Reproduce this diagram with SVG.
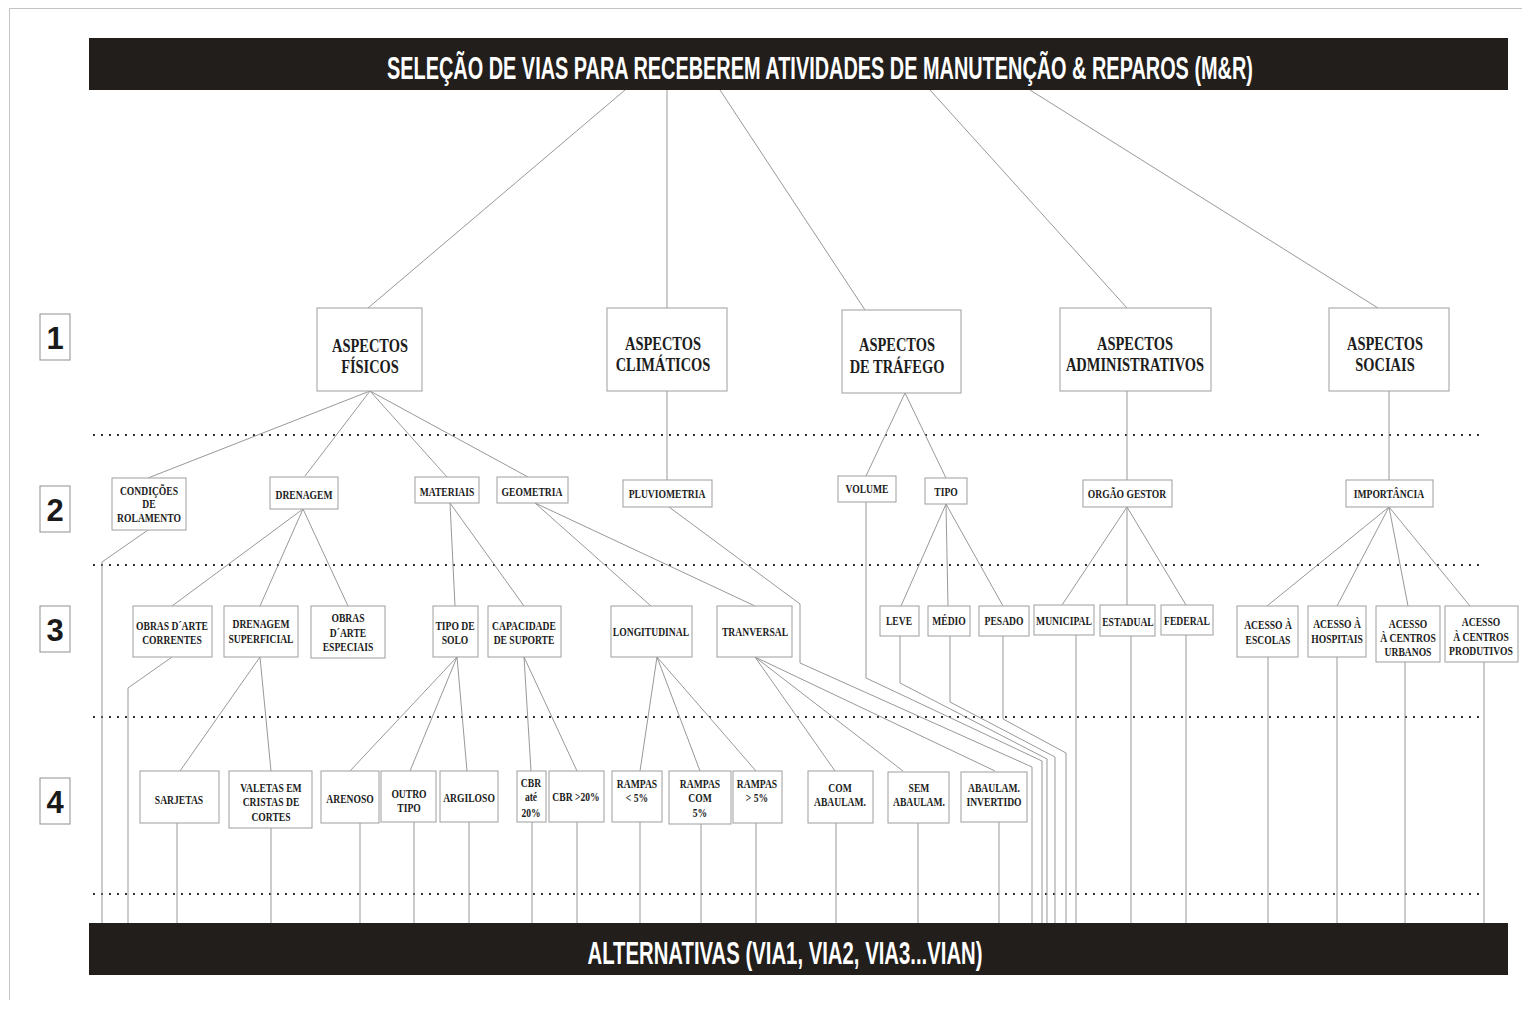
<svg xmlns="http://www.w3.org/2000/svg" width="1522" height="1011" viewBox="0 0 1522 1011">
<style>
  .bg { fill: #ffffff; }
  .frame { stroke: #c4c4c4; stroke-width: 1; fill: none; }
  .banner { fill: #221e1b; }
  .btxt { font-family: "Liberation Sans", Arial, sans-serif; font-weight: bold; font-size: 32px; fill: #ffffff; text-anchor: middle; }
  .box { fill: #ffffff; stroke: #a6a6a6; stroke-width: 1.1; }
  .lvl { fill: #ffffff; stroke: #9a9a9a; stroke-width: 1.1; }
  .num { font-family: "Liberation Sans", Arial, sans-serif; font-weight: bold; font-size: 31px; fill: #1a1a1a; text-anchor: middle; }
  .t1 { font-family: "Liberation Serif", "Times New Roman", serif; font-weight: bold; font-size: 19px; fill: #1c1c1c; text-anchor: middle; transform-box: fill-box; transform-origin: center; transform: scaleX(0.76); }
  .t { font-family: "Liberation Serif", "Times New Roman", serif; font-weight: bold; font-size: 12px; fill: #1c1c1c; text-anchor: middle; transform-box: fill-box; transform-origin: center; transform: scaleX(0.8); }
  .dots { stroke: #262626; stroke-width: 1.9; stroke-dasharray: 1.9 6.1; fill: none; }
  .ln { stroke: #8c8c8c; stroke-width: 0.9; fill: none; }
</style>

<rect class="bg" x="0" y="0" width="1522" height="1011"/>
<!-- page frame -->
<path class="frame" d="M9.5 1000 V8.5 H1522"/>

<!-- level separators -->
<g id="separators">
  <line class="dots" x1="93" y1="435" x2="1480" y2="435"/>
  <line class="dots" x1="93" y1="565" x2="1480" y2="565"/>
  <line class="dots" x1="93" y1="717" x2="1480" y2="717"/>
  <line class="dots" x1="93" y1="894" x2="1480" y2="894"/>
</g>

<!-- connectors -->
<g id="connectors">
  <!-- title to level 1 -->
  <line class="ln" x1="625" y1="90" x2="368" y2="308"/>
  <line class="ln" x1="667" y1="90" x2="667" y2="308"/>
  <line class="ln" x1="720" y1="90" x2="865" y2="310"/>
  <line class="ln" x1="930" y1="90" x2="1127" y2="308"/>
  <line class="ln" x1="1030" y1="90" x2="1378" y2="308"/>
  <!-- level 1 to level 2 -->
  <line class="ln" x1="370" y1="391" x2="148" y2="478"/>
  <line class="ln" x1="370" y1="391" x2="305" y2="476"/>
  <line class="ln" x1="370" y1="391" x2="447" y2="477"/>
  <line class="ln" x1="370" y1="391" x2="528" y2="477"/>
  <line class="ln" x1="667" y1="391" x2="667" y2="480"/>
  <line class="ln" x1="905" y1="393" x2="866" y2="476"/>
  <line class="ln" x1="905" y1="393" x2="946" y2="478"/>
  <line class="ln" x1="1127" y1="391" x2="1127" y2="480"/>
  <line class="ln" x1="1389" y1="391" x2="1389" y2="480"/>
  <!-- level 2 to level 3 -->
  <polyline class="ln" points="148,530 102,562 102,923"/>
  <line class="ln" x1="303" y1="509" x2="172" y2="606"/>
  <line class="ln" x1="303" y1="509" x2="260" y2="606"/>
  <line class="ln" x1="303" y1="509" x2="348" y2="606"/>
  <line class="ln" x1="450" y1="503" x2="455" y2="606"/>
  <line class="ln" x1="450" y1="503" x2="524" y2="606"/>
  <line class="ln" x1="535" y1="503" x2="651" y2="606"/>
  <line class="ln" x1="535" y1="503" x2="755" y2="606"/>
  <polyline class="ln" points="669,507 800,604 800,663 1032,767 1032,923"/>
  <polyline class="ln" points="866,502 866,678 1042,761 1042,923"/>
  <line class="ln" x1="946" y1="504" x2="901" y2="606"/>
  <line class="ln" x1="946" y1="504" x2="948" y2="606"/>
  <line class="ln" x1="946" y1="504" x2="1003" y2="606"/>
  <line class="ln" x1="1127" y1="507" x2="1062" y2="605"/>
  <line class="ln" x1="1127" y1="507" x2="1127" y2="605"/>
  <line class="ln" x1="1127" y1="507" x2="1186" y2="605"/>
  <line class="ln" x1="1389" y1="507" x2="1267" y2="606"/>
  <line class="ln" x1="1389" y1="507" x2="1337" y2="606"/>
  <line class="ln" x1="1389" y1="507" x2="1408" y2="606"/>
  <line class="ln" x1="1389" y1="507" x2="1470" y2="606"/>
  <!-- level 3 to level 4 / alternatives -->
  <polyline class="ln" points="172,657 128,688 128,923"/>
  <line class="ln" x1="260" y1="657" x2="180" y2="771"/>
  <line class="ln" x1="260" y1="657" x2="271" y2="771"/>
  <line class="ln" x1="457" y1="657" x2="350" y2="771"/>
  <line class="ln" x1="457" y1="657" x2="410" y2="771"/>
  <line class="ln" x1="457" y1="657" x2="467" y2="771"/>
  <line class="ln" x1="524" y1="657" x2="531" y2="771"/>
  <line class="ln" x1="524" y1="657" x2="577" y2="771"/>
  <line class="ln" x1="657" y1="657" x2="640" y2="771"/>
  <line class="ln" x1="657" y1="657" x2="700" y2="771"/>
  <line class="ln" x1="657" y1="657" x2="756" y2="771"/>
  <line class="ln" x1="755" y1="657" x2="835" y2="771"/>
  <line class="ln" x1="755" y1="657" x2="903" y2="771"/>
  <line class="ln" x1="755" y1="657" x2="995" y2="771"/>
  <polyline class="ln" points="900,636 900,683 1047,759 1047,923"/>
  <polyline class="ln" points="950,636 950,702 1055,757 1055,923"/>
  <polyline class="ln" points="1003,636 1003,719 1066,753 1066,923"/>
  <line class="ln" x1="1076" y1="635" x2="1076" y2="923"/>
  <line class="ln" x1="1131" y1="636" x2="1131" y2="923"/>
  <line class="ln" x1="1186" y1="635" x2="1186" y2="923"/>
  <line class="ln" x1="1268" y1="657" x2="1268" y2="923"/>
  <line class="ln" x1="1337" y1="657" x2="1337" y2="923"/>
  <line class="ln" x1="1405" y1="662" x2="1405" y2="923"/>
  <line class="ln" x1="1484" y1="662" x2="1484" y2="923"/>
  <!-- level 4 to alternatives -->
  <line class="ln" x1="177" y1="823" x2="177" y2="923"/>
  <line class="ln" x1="271" y1="828" x2="271" y2="923"/>
  <line class="ln" x1="360" y1="823" x2="360" y2="923"/>
  <line class="ln" x1="414" y1="822" x2="414" y2="923"/>
  <line class="ln" x1="469" y1="822" x2="469" y2="923"/>
  <line class="ln" x1="532" y1="822" x2="532" y2="923"/>
  <line class="ln" x1="577" y1="822" x2="577" y2="923"/>
  <line class="ln" x1="640" y1="822" x2="640" y2="923"/>
  <line class="ln" x1="701" y1="824" x2="701" y2="923"/>
  <line class="ln" x1="756" y1="823" x2="756" y2="923"/>
  <line class="ln" x1="836" y1="823" x2="836" y2="923"/>
  <line class="ln" x1="918" y1="823" x2="918" y2="923"/>
  <line class="ln" x1="999" y1="822" x2="999" y2="923"/>
</g>

<!-- title banner -->
<g id="title">
  <rect class="banner" x="89" y="38" width="1419" height="52"/>
  <text class="btxt" transform="translate(820 79) scale(0.622 1)" x="0" y="0">SELEÇÃO DE VIAS PARA RECEBEREM ATIVIDADES  DE MANUTENÇÃO &amp; REPAROS (M&amp;R)</text>
</g>

<!-- alternatives banner -->
<g id="alternativas">
  <rect class="banner" x="89" y="923" width="1419" height="52"/>
  <text class="btxt" transform="translate(785 964) scale(0.635 1)" x="0" y="0">ALTERNATIVAS (VIA1, VIA2, VIA3...VIAN)</text>
</g>

<!-- level numbers -->
<g id="nivel-1"><rect class="lvl" x="40" y="314" width="30" height="46"/><text class="num" x="55" y="349">1</text></g>
<g id="nivel-2"><rect class="lvl" x="40" y="486" width="30" height="46"/><text class="num" x="55" y="521">2</text></g>
<g id="nivel-3"><rect class="lvl" x="40" y="606" width="30" height="46"/><text class="num" x="55" y="641">3</text></g>
<g id="nivel-4"><rect class="lvl" x="40" y="778" width="30" height="46"/><text class="num" x="55" y="813">4</text></g>

<!-- level 1 -->
<g id="aspectos-fisicos"><rect class="box" x="317" y="308" width="105" height="83"/><text class="t1"><tspan x="370" y="352">ASPECTOS</tspan><tspan x="370" y="373">FÍSICOS</tspan></text></g>
<g id="aspectos-climaticos"><rect class="box" x="607" y="308" width="120" height="83"/><text class="t1"><tspan x="663" y="350">ASPECTOS</tspan><tspan x="663" y="371">CLIMÁTICOS</tspan></text></g>
<g id="aspectos-trafego"><rect class="box" x="842" y="310" width="119" height="83"/><text class="t1"><tspan x="897" y="351">ASPECTOS</tspan><tspan x="897" y="373">DE TRÁFEGO</tspan></text></g>
<g id="aspectos-administrativos"><rect class="box" x="1060" y="308" width="151" height="83"/><text class="t1"><tspan x="1135" y="350">ASPECTOS</tspan><tspan x="1135" y="371">ADMINISTRATIVOS</tspan></text></g>
<g id="aspectos-sociais"><rect class="box" x="1329" y="308" width="120" height="83"/><text class="t1"><tspan x="1385" y="350">ASPECTOS</tspan><tspan x="1385" y="371">SOCIAIS</tspan></text></g>

<!-- level 2 -->
<g id="condicoes-rolamento"><rect class="box" x="112" y="478" width="74" height="52"/><text class="t"><tspan x="149" y="495">CONDIÇÕES</tspan><tspan x="149" y="508">DE</tspan><tspan x="149" y="522">ROLAMENTO</tspan></text></g>
<g id="drenagem"><rect class="box" x="270" y="477" width="68" height="32"/><text class="t" x="304" y="499">DRENAGEM</text></g>
<g id="materiais"><rect class="box" x="415" y="477" width="64" height="26"/><text class="t" x="447" y="496">MATERIAIS</text></g>
<g id="geometria"><rect class="box" x="497" y="477" width="71" height="26"/><text class="t" x="532" y="496">GEOMETRIA</text></g>
<g id="pluviometria"><rect class="box" x="623" y="480" width="89" height="27"/><text class="t" x="667" y="498">PLUVIOMETRIA</text></g>
<g id="volume"><rect class="box" x="838" y="476" width="58" height="26"/><text class="t" x="867" y="493">VOLUME</text></g>
<g id="tipo"><rect class="box" x="925" y="478" width="42" height="26"/><text class="t" x="946" y="496">TIPO</text></g>
<g id="orgao-gestor"><rect class="box" x="1083" y="480" width="89" height="27"/><text class="t" x="1127" y="498">ORGÃO GESTOR</text></g>
<g id="importancia"><rect class="box" x="1346" y="480" width="87" height="27"/><text class="t" x="1389" y="498">IMPORTÂNCIA</text></g>

<!-- level 3 -->
<g id="obras-arte-correntes"><rect class="box" x="133" y="606" width="79" height="51"/><text class="t"><tspan x="172" y="630">OBRAS D´ARTE</tspan><tspan x="172" y="644">CORRENTES</tspan></text></g>
<g id="drenagem-superficial"><rect class="box" x="224" y="606" width="74" height="51"/><text class="t"><tspan x="261" y="628">DRENAGEM</tspan><tspan x="261" y="643">SUPERFICIAL</tspan></text></g>
<g id="obras-arte-especiais"><rect class="box" x="311" y="606" width="74" height="52"/><text class="t"><tspan x="348" y="622">OBRAS</tspan><tspan x="348" y="637">D´ARTE</tspan><tspan x="348" y="651">ESPECIAIS</tspan></text></g>
<g id="tipo-de-solo"><rect class="box" x="433" y="606" width="45" height="51"/><text class="t"><tspan x="455" y="630">TIPO DE</tspan><tspan x="455" y="644">SOLO</tspan></text></g>
<g id="capacidade-suporte"><rect class="box" x="488" y="606" width="73" height="51"/><text class="t"><tspan x="524" y="630">CAPACIDADE</tspan><tspan x="524" y="644">DE SUPORTE</tspan></text></g>
<g id="longitudinal"><rect class="box" x="611" y="606" width="81" height="51"/><text class="t" x="651" y="636">LONGITUDINAL</text></g>
<g id="tranversal"><rect class="box" x="717" y="606" width="75" height="51"/><text class="t" x="755" y="636">TRANVERSAL</text></g>
<g id="leve"><rect class="box" x="880" y="606" width="39" height="30"/><text class="t" x="899" y="625">LEVE</text></g>
<g id="medio"><rect class="box" x="928" y="606" width="42" height="30"/><text class="t" x="949" y="625">MÉDIO</text></g>
<g id="pesado"><rect class="box" x="979" y="606" width="50" height="30"/><text class="t" x="1004" y="625">PESADO</text></g>
<g id="municipal"><rect class="box" x="1034" y="605" width="60" height="30"/><text class="t" x="1064" y="625">MUNICIPAL</text></g>
<g id="estadual"><rect class="box" x="1100" y="605" width="55" height="31"/><text class="t" x="1128" y="626">ESTADUAL</text></g>
<g id="federal"><rect class="box" x="1161" y="605" width="52" height="30"/><text class="t" x="1187" y="625">FEDERAL</text></g>
<g id="acesso-escolas"><rect class="box" x="1237" y="606" width="61" height="51"/><text class="t"><tspan x="1268" y="629">ACESSO À</tspan><tspan x="1268" y="644">ESCOLAS</tspan></text></g>
<g id="acesso-hospitais"><rect class="box" x="1308" y="606" width="58" height="51"/><text class="t"><tspan x="1337" y="628">ACESSO À</tspan><tspan x="1337" y="643">HOSPITAIS</tspan></text></g>
<g id="acesso-centros-urbanos"><rect class="box" x="1376" y="606" width="64" height="56"/><text class="t"><tspan x="1408" y="628">ACESSO</tspan><tspan x="1408" y="642">À CENTROS</tspan><tspan x="1408" y="656">URBANOS</tspan></text></g>
<g id="acesso-centros-produtivos"><rect class="box" x="1445" y="606" width="73" height="56"/><text class="t"><tspan x="1481" y="626">ACESSO</tspan><tspan x="1481" y="641">À CENTROS</tspan><tspan x="1481" y="655">PRODUTIVOS</tspan></text></g>

<!-- level 4 -->
<g id="sarjetas"><rect class="box" x="140" y="771" width="79" height="52"/><text class="t" x="179" y="804">SARJETAS</text></g>
<g id="valetas"><rect class="box" x="229" y="771" width="83" height="57"/><text class="t"><tspan x="271" y="792">VALETAS EM</tspan><tspan x="271" y="806">CRISTAS DE</tspan><tspan x="271" y="821">CORTES</tspan></text></g>
<g id="arenoso"><rect class="box" x="321" y="771" width="58" height="52"/><text class="t" x="350" y="803">ARENOSO</text></g>
<g id="outro-tipo"><rect class="box" x="381" y="771" width="55" height="51"/><text class="t"><tspan x="409" y="798">OUTRO</tspan><tspan x="409" y="812">TIPO</tspan></text></g>
<g id="argiloso"><rect class="box" x="440" y="771" width="58" height="51"/><text class="t" x="469" y="802">ARGILOSO</text></g>
<g id="cbr-ate-20"><rect class="box" x="517" y="771" width="29" height="51"/><text class="t"><tspan x="531" y="787">CBR</tspan><tspan x="531" y="801">até</tspan><tspan x="531" y="817">20%</tspan></text></g>
<g id="cbr-maior-20"><rect class="box" x="549" y="771" width="55" height="51"/><text class="t" x="576" y="801">CBR &gt;20%</text></g>
<g id="rampas-menor-5"><rect class="box" x="612" y="771" width="50" height="51"/><text class="t"><tspan x="637" y="788">RAMPAS</tspan><tspan x="637" y="802">&lt; 5%</tspan></text></g>
<g id="rampas-com-5"><rect class="box" x="669" y="771" width="62" height="53"/><text class="t"><tspan x="700" y="788">RAMPAS</tspan><tspan x="700" y="802">COM</tspan><tspan x="700" y="817">5%</tspan></text></g>
<g id="rampas-maior-5"><rect class="box" x="733" y="771" width="49" height="52"/><text class="t"><tspan x="757" y="788">RAMPAS</tspan><tspan x="757" y="802">&gt; 5%</tspan></text></g>
<g id="com-abaulam"><rect class="box" x="808" y="771" width="65" height="52"/><text class="t"><tspan x="840" y="792">COM</tspan><tspan x="840" y="806">ABAULAM.</tspan></text></g>
<g id="sem-abaulam"><rect class="box" x="888" y="772" width="61" height="51"/><text class="t"><tspan x="919" y="792">SEM</tspan><tspan x="919" y="806">ABAULAM.</tspan></text></g>
<g id="abaulam-invertido"><rect class="box" x="961" y="772" width="66" height="50"/><text class="t"><tspan x="994" y="792">ABAULAM.</tspan><tspan x="994" y="806">INVERTIDO</tspan></text></g>
</svg>
